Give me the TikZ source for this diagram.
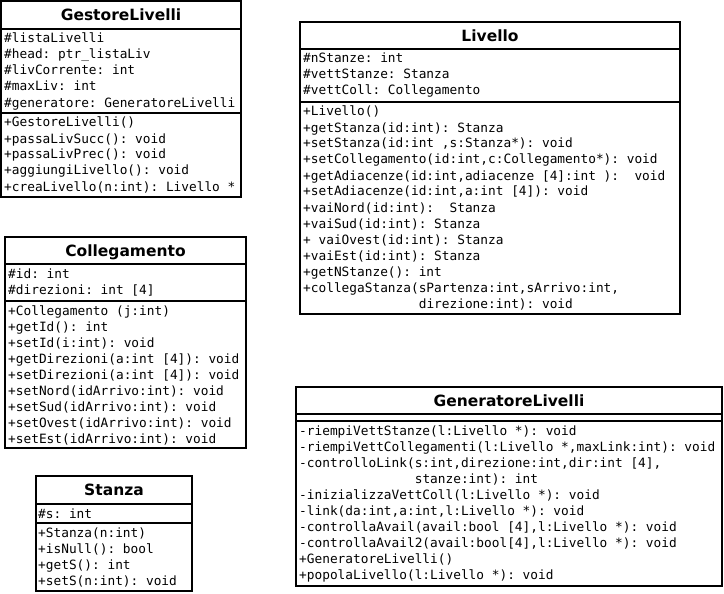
\documentclass[tikz,border=0pt]{standalone}
\usepackage{fontspec}
\setmainfont{DejaVu Sans}
\setsansfont{DejaVu Sans}
\setmonofont{DejaVu Sans Mono}
\tikzset{
  frame/.style={draw=black, line width=2pt, fill=white, rectangle, inner sep=0pt, outer sep=0pt, anchor=north west},
  sepline/.style={line width=2pt},
  mono/.style={font=\ttfamily\fontsize{12.8}{16}\selectfont, inner sep=0pt, anchor=base west},
  ttl/.style={font=\sffamily\bfseries\fontsize{15.5}{18}\selectfont, inner sep=0pt, anchor=base},
}
\begin{document}
\begin{tikzpicture}[x=1pt,y=-1pt]
\useasboundingbox (0,0) rectangle (724,594);

% ---------- GestoreLivelli ----------
\node[frame, minimum width=240pt, minimum height=196pt] (gestore) at (1,1) {};
\node[ttl] (gestore-t) at (121,20.5) {GestoreLivelli};
\draw[sepline] (1,29) -- (241,29);
\draw[sepline] (1,113) -- (241,113);
\foreach \t [count=\i] in {{\#listaLivelli},{\#head: ptr\_listaLiv},{\#livCorrente: int},{\#maxLiv: int},{\#generatore: GeneratoreLivelli}}
  \node[mono] (gestore-a\i) at (4,{43+16*(\i-1)}) {\t};
\foreach \t [count=\i] in {{+GestoreLivelli()},{+passaLivSucc(): void},{+passaLivPrec(): void},{+aggiungiLivello(): void},{+creaLivello(n:int): Livello *}}
  \node[mono] (gestore-m\i) at (4,{127+16*(\i-1)}) {\t};

% ---------- Livello ----------
\node[frame, minimum width=380pt, minimum height=292pt] (livello) at (300,22) {};
\node[ttl] (livello-t) at (490,41.5) {Livello};
\draw[sepline] (300,49) -- (680,49);
\draw[sepline] (300,102) -- (680,102);
\foreach \t [count=\i] in {{\#nStanze: int},{\#vettStanze: Stanza},{\#vettColl: Collegamento}}
  \node[mono] (livello-a\i) at (303,{63+16*(\i-1)}) {\t};
\foreach \t [count=\i] in {{+Livello()},{+getStanza(id:int): Stanza},{+setStanza(id:int ,s:Stanza*): void},{+setCollegamento(id:int,c:Collegamento*): void},{+getAdiacenze(id:int,adiacenze [4]:int ):~~void},{+setAdiacenze(id:int,a:int [4]): void},{+vaiNord(id:int):~~Stanza},{+vaiSud(id:int): Stanza},{+~vaiOvest(id:int): Stanza},{+vaiEst(id:int): Stanza},{+getNStanze(): int},{+collegaStanza(sPartenza:int,sArrivo:int,},{~~~~~~~~~~~~~~~direzione:int): void}}
  \node[mono] (livello-m\i) at (303,{116+16*(\i-1)}) {\t};

% ---------- Collegamento ----------
\node[frame, minimum width=241pt, minimum height=211pt] (coll) at (5,237) {};
\node[ttl] (coll-t) at (125.5,256.5) {Collegamento};
\draw[sepline] (5,264) -- (246,264);
\draw[sepline] (5,301) -- (246,301);
\foreach \t [count=\i] in {{\#id: int},{\#direzioni: int [4]}}
  \node[mono] (coll-a\i) at (8,{278+16*(\i-1)}) {\t};
\foreach \t [count=\i] in {{+Collegamento (j:int)},{+getId(): int},{+setId(i:int): void},{+getDirezioni(a:int [4]): void},{+setDirezioni(a:int [4]): void},{+setNord(idArrivo:int): void},{+setSud(idArrivo:int): void},{+setOvest(idArrivo:int): void},{+setEst(idArrivo:int): void}}
  \node[mono] (coll-m\i) at (8,{315+16*(\i-1)}) {\t};

% ---------- Stanza ----------
\node[frame, minimum width=156pt, minimum height=115pt] (stanza) at (36,476) {};
\node[ttl] (stanza-t) at (114,495.5) {Stanza};
\draw[sepline] (36,504) -- (192,504);
\draw[sepline] (36,523) -- (192,523);
\node[mono] (stanza-a1) at (38,518) {\#s: int};
\foreach \t [count=\i] in {{+Stanza(n:int)},{+isNull(): bool},{+getS(): int},{+setS(n:int): void}}
  \node[mono] (stanza-m\i) at (38,{537+16*(\i-1)}) {\t};

% ---------- GeneratoreLivelli ----------
\node[frame, minimum width=426pt, minimum height=199pt] (gen) at (296,387) {};
\node[ttl] (gen-t) at (509,406.5) {GeneratoreLivelli};
\draw[sepline] (296,414) -- (722,414);
\draw[sepline] (296,421) -- (722,421);
\foreach \t [count=\i] in {{-riempiVettStanze(l:Livello *): void},{-riempiVettCollegamenti(l:Livello *,maxLink:int): void},{-controlloLink(s:int,direzione:int,dir:int [4],},{~~~~~~~~~~~~~~~stanze:int): int},{-inizializzaVettColl(l:Livello *): void},{-link(da:int,a:int,l:Livello *): void},{-controllaAvail(avail:bool [4],l:Livello *): void},{-controllaAvail2(avail:bool[4],l:Livello *): void},{+GeneratoreLivelli()},{+popolaLivello(l:Livello *): void}}
  \node[mono] (gen-m\i) at (299,{435+16*(\i-1)}) {\t};

\end{tikzpicture}
\end{document}
